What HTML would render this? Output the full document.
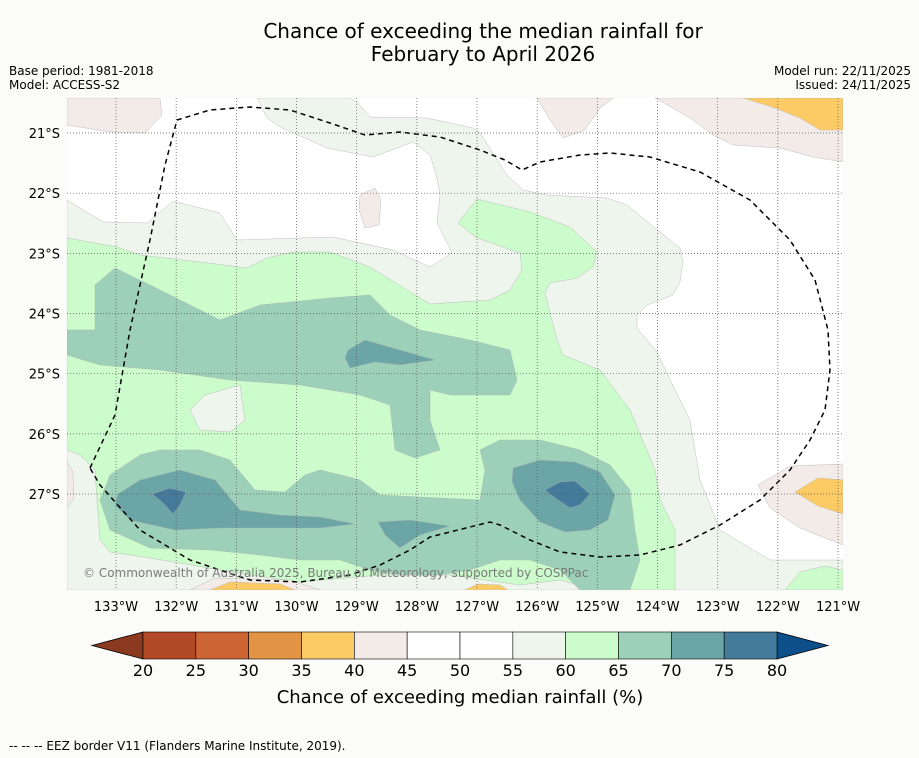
<!DOCTYPE html>
<html><head><meta charset="utf-8"><style>
body{margin:0;background:#fbfcfa;font-family:"DejaVu Sans","Liberation Sans",sans-serif;}
svg{display:block}
</style></head><body>
<svg id="c" width="919" height="758" xmlns="http://www.w3.org/2000/svg" font-family="DejaVu Sans, Liberation Sans, sans-serif">
<rect width="919" height="758" fill="#fbfcfa"/>
<text x="483" y="38" font-size="20" text-anchor="middle">Chance of exceeding the median rainfall for</text>
<text x="483" y="61" font-size="20" text-anchor="middle">February to April 2026</text>
<text x="9" y="75" font-size="12">Base period: 1981-2018</text>
<text x="9" y="89" font-size="12">Model: ACCESS-S2</text>
<text x="911" y="75" font-size="12" text-anchor="end">Model run: 22/11/2025</text>
<text x="911" y="89" font-size="12" text-anchor="end">Issued: 24/11/2025</text>
<defs><clipPath id="mc"><rect x="67" y="98" width="776" height="492"/></clipPath></defs>
<g id="map" clip-path="url(#mc)"><rect x="67" y="98" width="776" height="492" fill="#ffffff"/></g>
<g id="grid"></g>
<g id="axes"></g>
<text x="83" y="577" font-size="12" fill="#7a7a7a">© Commonwealth of Australia 2025, Bureau of Meteorology, supported by COSPPac</text>
<g id="cbar"></g>
<text x="460" y="703" font-size="18" text-anchor="middle">Chance of exceeding median rainfall (%)</text>
<text x="9" y="750" font-size="12">--  --  -- EEZ border V11 (Flanders Marine Institute, 2019).</text>
</svg>
<script>
const lonTicks=[133,132,131,130,129,128,127,126,125,124,123,122,121];
const latTicks=[21,22,23,24,25,26,27];
const levels=[20,25,30,35,40,45,50,55,60,65,70,75,80];
const levelColors=["#b34a27","#cd6634","#e09444","#fdcb66","#f2ebe7","#ffffff","#ffffff","#eef5ec","#ccfccc","#9dd0b8","#6ca5a6","#447b9a"];
const lowColor="#8b3a20", highColor="#0d4f8b";
function X(lonW){return 116+(133-lonW)*60.17;}
function Y(latS){return 133+(latS-21)*60.17;}
function toDeg(p){return p.map(q=>[+(133-(q[0]-116)/60.17).toFixed(3),+(21+(q[1]-133)/60.17).toFixed(3)]);}
const regionLevels=[7,8,7,9,9,10,10,10,10,11,11,4,4,4,4,4,4,4,3,3,3,3,8];
const regionShapes=[
[[67,200],[103,222],[147,223],[173,201],[220,213],[237,240],[333,237],[393,250],[430,267],[452,253],[437,223],[440,195],[437,178],[430,155],[413,142],[373,157],[327,148],[280,127],[267,118],[257,98],[350,98],[357,102],[370,117],[427,118],[473,128],[480,133],[507,175],[523,190],[547,195],[607,198],[627,205],[660,232],[680,248],[683,262],[680,282],[673,295],[647,305],[637,315],[637,328],[657,352],[675,390],[690,420],[700,480],[720,530],[770,560],[843,560],[843,590],[67,590]],
[[67,238],[117,247],[140,255],[200,262],[247,268],[267,258],[293,252],[330,252],[370,267],[407,290],[430,304],[490,300],[510,290],[522,270],[520,253],[477,238],[458,223],[477,199],[530,212],[570,227],[597,252],[593,267],[577,278],[550,283],[545,293],[557,340],[563,355],[600,370],[630,410],[655,470],[660,500],[675,530],[675,590],[595,590],[560,580],[520,585],[450,575],[380,575],[300,582],[250,575],[150,558],[110,552],[100,540],[97,500],[95,470],[80,455],[67,450]],
[[205,395],[240,385],[245,420],[230,432],[200,430],[190,410]],
[[95,285],[115,268],[150,285],[180,300],[220,320],[260,305],[330,298],[370,295],[390,315],[420,330],[470,340],[510,350],[517,380],[510,395],[450,395],[430,390],[430,420],[440,450],[415,458],[395,450],[390,405],[360,395],[300,385],[230,380],[160,370],[100,365],[67,355],[67,330],[95,330]],
[[110,475],[140,455],[160,450],[200,450],[230,460],[255,490],[285,492],[305,475],[320,470],[345,476],[360,480],[380,495],[480,500],[485,470],[480,450],[500,440],[540,440],[580,450],[610,465],[630,490],[635,530],[640,560],[630,590],[580,590],[560,570],[530,560],[500,560],[470,570],[440,575],[400,575],[370,570],[340,560],[300,560],[260,555],[210,550],[150,548],[110,530],[100,500]],
[[118,494],[140,480],[180,470],[215,480],[240,510],[280,515],[320,517],[355,524],[320,528],[270,528],[220,528],[175,530],[130,520],[115,505]],
[[378,522],[410,520],[450,526],[420,535],[400,548],[385,535]],
[[513,468],[540,460],[575,462],[600,472],[615,495],[608,520],[590,530],[565,532],[540,522],[520,500],[512,482]],
[[348,350],[365,340],[400,350],[435,360],[400,365],[375,362],[350,368],[345,358]],
[[152,494],[170,488],[186,492],[180,505],[173,514],[162,502]],
[[545,490],[560,482],[575,481],[590,494],[580,505],[570,508],[555,498]],
[[67,98],[160,98],[162,115],[145,133],[110,132],[67,125]],
[[360,195],[375,188],[381,200],[379,225],[365,228],[359,210]],
[[537,98],[613,98],[600,108],[585,130],[563,138],[550,120]],
[[655,98],[843,98],[843,162],[813,157],[780,148],[733,145],[713,135],[690,118]],
[[758,485],[790,466],[843,464],[843,545],[800,528],[770,508]],
[[67,462],[73,472],[74,498],[67,508]],
[[190,590],[215,578],[290,580],[320,590]],
[[743,98],[843,98],[843,130],[820,130],[800,118],[775,108]],
[[795,492],[818,478],[843,480],[843,514],[818,506]],
[[210,590],[230,582],[280,584],[295,590]],
[[465,590],[478,584],[500,585],[508,590]],
[[785,590],[800,572],[825,566],[843,570],[843,590]]
].map(toDeg);
const eezLon=[[90,468],[115,415],[130,330],[150,240],[165,165],[177,120],[210,110],[250,107],[290,110],[330,123],[365,135],[400,132],[440,137],[480,150],[505,160],[522,170],[540,162],[580,155],[610,153],[650,157],[700,172],[750,200],[790,240],[815,280],[828,330],[830,370],[825,410],[810,440],[790,470],[760,500],[720,525],[680,545],[640,555],[600,557],[560,552],[530,540],[500,525],[490,522],[470,527],[430,537],[410,550],[380,565],[350,575],[300,582],[250,580],[190,560],[140,530],[100,485],[90,468]];
const eezPath=toDeg(eezLon);
const NS="http://www.w3.org/2000/svg";
function mk(t,a,p){const e=document.createElementNS(NS,t);for(const k in a)e.setAttribute(k,a[k]);p.appendChild(e);return e;}
const map=document.getElementById('map');
regionShapes.forEach((pts,i)=>{
  const d=pts.map((p,j)=>(j?'L':'M')+X(p[0]).toFixed(1)+','+Y(p[1]).toFixed(1)).join('')+'Z';
  const e=mk('path',{d:d,fill:levelColors[regionLevels[i]],stroke:'#b0b0b0','stroke-width':0.4},map);
  
  
});
const ed=eezPath.map((p,j)=>(j?'L':'M')+X(p[0]).toFixed(1)+','+Y(p[1]).toFixed(1)).join('');
const eez=mk('path',{d:ed,fill:'none',stroke:'#000','stroke-width':1.5,'stroke-dasharray':'5,4'},map);


const grid=document.getElementById('grid'),axes=document.getElementById('axes');
lonTicks.forEach(l=>{
  const x=X(l);
  const g=mk('line',{x1:x,x2:x,y1:98,y2:590,stroke:'#555','stroke-width':0.7,'stroke-dasharray':'1,2'},grid);
  
  
  const t=mk('text',{x:x,y:611,'font-size':13,'text-anchor':'middle'},axes);t.textContent=l+'°W';
  
  
});
latTicks.forEach(l=>{
  const y=Y(l);
  const g=mk('line',{x1:67,x2:843,y1:y,y2:y,stroke:'#555','stroke-width':0.7,'stroke-dasharray':'1,2'},grid);
  
  
  const t=mk('text',{x:60,y:y+5,'font-size':13,'text-anchor':'end'},axes);t.textContent=l+'°S';
  
  
});
const cb=document.getElementById('cbar');
const cx0=143,cx1=777,cy=632,ch=27;
function CX(v){return cx0+(v-levels[0])/(levels[levels.length-1]-levels[0])*(cx1-cx0);}
const lo=mk('path',{d:`M${cx0},${cy}L92,${cy+ch/2}L${cx0},${cy+ch}Z`,fill:lowColor,stroke:'#000','stroke-width':0.8},cb);


const hi=mk('path',{d:`M${cx1},${cy}L828,${cy+ch/2}L${cx1},${cy+ch}Z`,fill:highColor,stroke:'#000','stroke-width':0.8},cb);


levelColors.forEach((c,i)=>{
  const r=mk('rect',{x:CX(levels[i]),y:cy,width:CX(levels[i+1])-CX(levels[i]),height:ch,fill:c,stroke:'#000','stroke-width':0.6},cb);
  
  
});
levels.forEach(v=>{
  const t=mk('text',{x:CX(v),y:676,'font-size':16,'text-anchor':'middle'},cb);t.textContent=v;
  
  
});
</script>
</body></html>
